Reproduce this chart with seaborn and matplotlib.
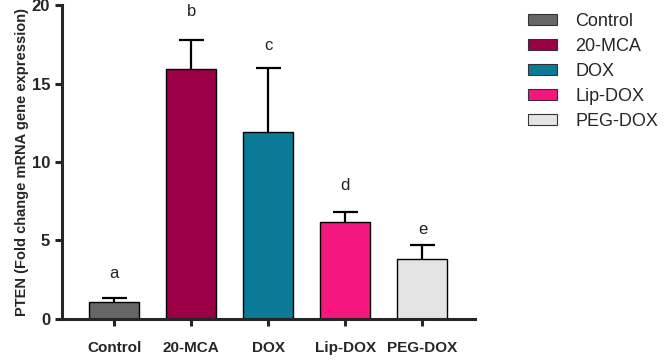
import matplotlib
matplotlib.use("Agg")
import matplotlib.pyplot as plt
import seaborn as sns
import pandas as pd
import numpy as np
from matplotlib.patches import Patch

categories = ["Control", "20-MCA", "DOX", "Lip-DOX", "PEG-DOX"]
means = [1.08, 15.9, 11.9, 6.2, 3.8]
errors = [0.26, 1.9, 4.1, 0.6, 0.9]
letters = ["a", "b", "c", "d", "e"]
letter_y = [2.9, 19.6, 17.4, 8.5, 5.7]
colors = ["#666666", "#9B0046", "#0A7A96", "#F5167F", "#E4E4E4"]
yticks = [0, 5, 10, 15, 20]

sns.set_style("ticks")
plt.rcParams['font.family'] = ['Liberation Sans', 'DejaVu Sans']

df = pd.DataFrame({"group": categories, "value": means})

fig = plt.figure(figsize=(6.65, 3.62), dpi=100)
ax = fig.add_axes([0.093, 0.119, 0.621, 0.867])

sns.barplot(data=df, x="group", y="value", hue="group", palette=colors,
            order=categories, hue_order=categories, dodge=False, width=0.65,
            saturation=1, edgecolor="black", linewidth=1.0, ax=ax, legend=False,
            zorder=2)

xpos = np.arange(len(categories))
tops = np.array(means) + np.array(errors)
ax.vlines(xpos, means, tops, colors="black", linewidth=1.6, zorder=1)
ax.hlines(tops, xpos - 0.16, xpos + 0.16, colors="black", linewidth=1.6, zorder=1)

for x, t, y in zip(xpos, letters, letter_y):
    ax.text(x, y, t, ha="center", va="center", fontsize=12, color="#222222")

ax.set_ylim(0, 20)
ax.set_xlim(-0.68, 4.68)
ax.set_yticks(yticks)
ax.set_yticklabels([str(v) for v in yticks], fontweight="bold", fontsize=12)
ax.set_xticks(xpos)
ax.set_xticklabels(categories, fontweight="bold", fontsize=11)
ax.set_xlabel("")
ax.set_ylabel("PTEN (Fold change mRNA gene expression)", fontweight="bold", fontsize=10.5,
              labelpad=2)
for s in ["top", "right"]:
    ax.spines[s].set_visible(False)
for s in ["left", "bottom"]:
    ax.spines[s].set_linewidth(2.2)
ax.tick_params(axis="both", width=2.2, length=5, direction="out")
ax.tick_params(axis="x", pad=11)

handles = [Patch(facecolor=c, edgecolor="#333333", linewidth=0.8) for c in colors]
fig.legend(handles, categories, loc="upper left", bbox_to_anchor=(0.77, 1.01),
           frameon=False, fontsize=13, handlelength=1.6, handleheight=0.6,
           labelspacing=0.45, handletextpad=1.0)

fig.savefig("out.png", dpi=100)
